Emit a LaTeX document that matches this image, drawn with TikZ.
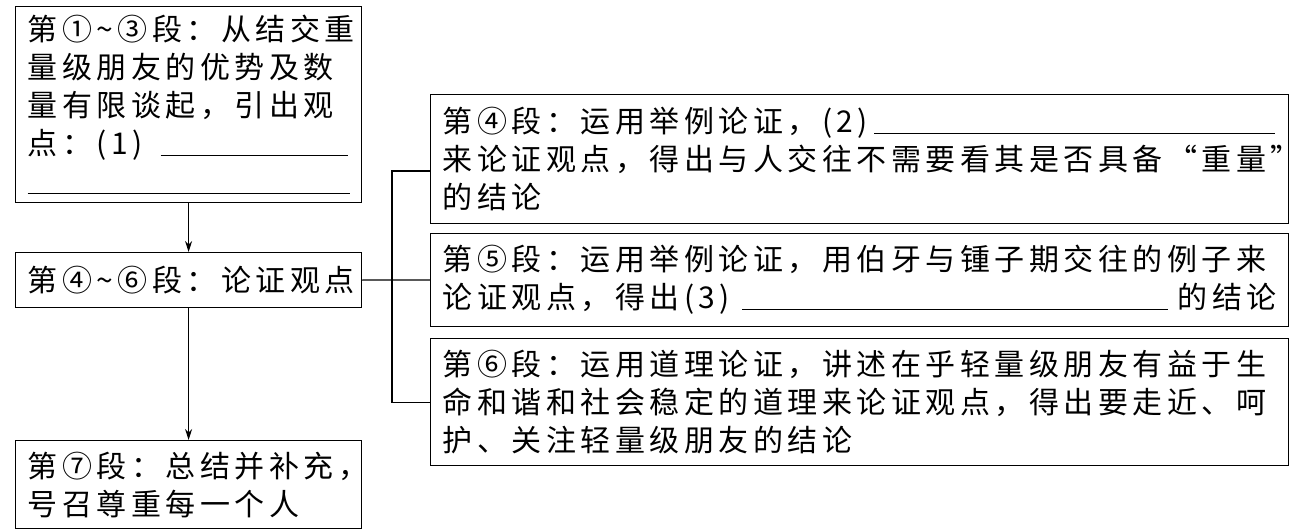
\documentclass[tikz,border=0pt]{standalone}
\usepackage{fontspec}
\usetikzlibrary{arrows.meta}
\newfontfamily\cjk{Noto Sans CJK SC}[LetterSpace=15]
\newcommand{\blank}[1]{\rule[-1pt]{#1}{1.1pt}}
\newcommand{\fillblank}{\leaders\hrule height 0.1pt depth 1pt\hskip 0pt plus 1fill}
\tikzset{
  box/.style={draw, line width=1.2pt, anchor=north west, inner ysep=0pt,
    inner xsep=12pt, align=left, font=\cjk\fontsize{30}{38}\selectfont},
  link/.style={line width=1.2pt},
  arr/.style={line width=1.2pt, -{Stealth[length=11pt,width=7pt]}}
}
\begin{document}
\begin{tikzpicture}[x=1pt,y=-1pt]
\useasboundingbox (0,0) rectangle (1301,532);
% left column
\node[box, minimum width=346pt, minimum height=196pt, text width=322pt] (a) at (15,6)
  {第①\textasciitilde③段：从结交重\\量级朋友的优势及数\\量有限谈起，引出观\\点：(1)\hspace{18pt}\fillblank\hspace{2pt}\null\\\blank{322pt}};
\node[box, minimum width=346pt, minimum height=55pt, text width=322pt] (b) at (15,252)
  {第④\textasciitilde⑥段：论证观点};
\node[box, minimum width=346pt, minimum height=88pt, text width=322pt] (c) at (15,440)
  {第⑦段：总结并补充，\\号召尊重每一个人};
% right column
\node[box, minimum width=858pt, minimum height=129pt, text width=834pt] (d) at (430,94)
  {第④段：运用举例论证，(2)\hspace{6pt}\fillblank\hspace{2pt}\null\\来论证观点，得出与人交往不需要看其是否具备“重量”\\的结论};
\node[box, minimum width=858pt, minimum height=93pt, text width=834pt] (e) at (430,233)
  {第⑤段：运用举例论证，用伯牙与锺子期交往的例子来\\论证观点，得出(3)\hspace{12pt}\fillblank\hspace{10pt}的结论};
\node[box, minimum width=858pt, minimum height=127pt, text width=834pt] (f) at (430,338)
  {第⑥段：运用道理论证，讲述在乎轻量级朋友有益于生\\命和谐和社会稳定的道理来论证观点，得出要走近、呵\\护、关注轻量级朋友的结论};
% connectors
\draw[arr] (a.south) -- (b.north);
\draw[arr] (b.south) -- (c.north);
\coordinate (bus) at (392,280);
\coordinate (k4) at (430,171);
\draw[link] (b.east) -- (bus) -- (e.west |- bus);
\draw[link] (k4) -| (bus) |- (f.west);
\end{tikzpicture}
\end{document}
